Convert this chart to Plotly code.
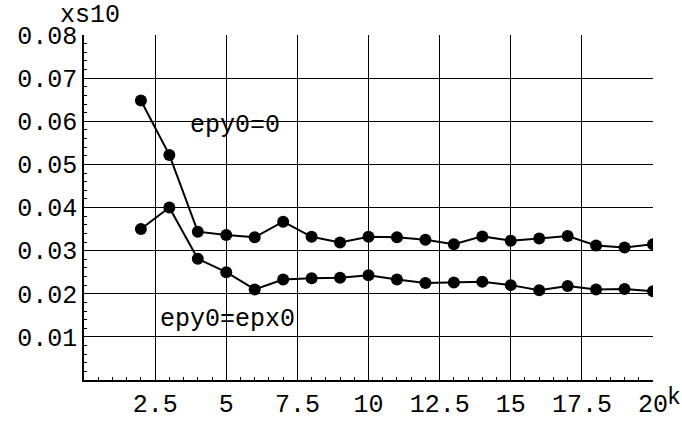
import plotly.graph_objects as go

k = list(range(2, 21))
epy0_zero = [0.0648, 0.0522, 0.0344, 0.0336, 0.0331, 0.0367, 0.0332, 0.0319, 0.0332, 0.0331,
             0.0325, 0.0315, 0.0333, 0.0323, 0.0328, 0.0334, 0.0312, 0.0307, 0.0315]
epy0_epx0 = [0.0350, 0.0400, 0.0281, 0.0250, 0.0210, 0.0233, 0.0236, 0.0237, 0.0243, 0.0233,
             0.0225, 0.0226, 0.0228, 0.0220, 0.0208, 0.0218, 0.0210, 0.0211, 0.0206]
x_ticks = [2.5, 5, 7.5, 10, 12.5, 15, 17.5, 20]
x_tick_text = ["2.5", "5", "7.5", "10", "12.5", "15", "17.5", "20"]
y_ticks = [0.01, 0.02, 0.03, 0.04, 0.05, 0.06, 0.07, 0.08]
y_tick_text = ["0.01", "0.02", "0.03", "0.04", "0.05", "0.06", "0.07", "0.08"]

FONT = "Liberation Mono"

fig = go.Figure()
for ys in (epy0_zero, epy0_epx0):
    fig.add_trace(go.Scatter(x=k, y=ys, mode="lines+markers",
                             line=dict(color="black", width=2),
                             marker=dict(color="black", size=12),
                             showlegend=False))

fig.add_annotation(x=5.3, y=0.0589, text="epy0=0", showarrow=False,
                   font=dict(family=FONT, size=25, color="black"))
fig.add_annotation(x=5.06, y=0.0140, text="epy0=epx0", showarrow=False,
                   font=dict(family=FONT, size=25, color="black"))
fig.add_annotation(x=0.0, y=1.0, xref="paper", yref="paper", text="xs10",
                   showarrow=False, xanchor="center", yanchor="middle", xshift=6, yshift=20,
                   font=dict(family=FONT, size=25, color="black"))
fig.add_annotation(x=1.0, y=0.0, xref="paper", yref="paper", text="k",
                   showarrow=False, xanchor="left", yanchor="middle", xshift=12, yshift=-18,
                   font=dict(family=FONT, size=23, color="black"))

fig.update_layout(
    width=682, height=432,
    margin=dict(l=84, r=29, t=35, b=44),
    paper_bgcolor="white", plot_bgcolor="white",
    font=dict(family=FONT, size=25, color="black"),
)
fig.update_xaxes(range=[0, 20], tickvals=x_ticks, ticktext=x_tick_text,
                 showgrid=True, gridcolor="black", gridwidth=1,
                 showline=True, linecolor="black", linewidth=1.5,
                 ticks="inside", ticklen=6, tickcolor="black",
                 minor=dict(dtick=0.5, ticks="inside", ticklen=3, tickcolor="black", showgrid=False),
                 zeroline=False, tickfont=dict(family=FONT, size=25))
fig.update_yaxes(range=[0, 0.08], tickvals=y_ticks, ticktext=y_tick_text,
                 showgrid=True, gridcolor="black", gridwidth=1,
                 showline=True, linecolor="black", linewidth=1.5,
                 ticks="inside", ticklen=6, tickcolor="black",
                 minor=dict(dtick=0.002, ticks="inside", ticklen=3, tickcolor="black", showgrid=False),
                 zeroline=False, tickfont=dict(family=FONT, size=25))

fig.write_html("out.html")
